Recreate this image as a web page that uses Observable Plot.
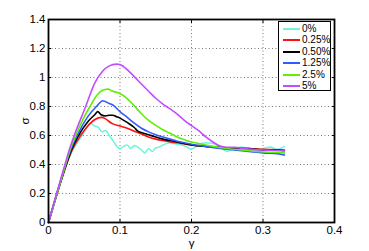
<!DOCTYPE html>
<html>
<head>
<meta charset="utf-8">
<script src="https://cdn.jsdelivr.net/npm/d3@7"></script>
<script src="https://cdn.jsdelivr.net/npm/@observablehq/plot@0.6"></script>
<style>
  html, body { margin: 0; padding: 0; background: #fff; }
  #wrap { position: relative; width: 369px; height: 251px; font-family: "Liberation Sans", Arial, sans-serif; }
  #legend { position: absolute; left: 278px; top: 21px; width: 53px; height: 70px; border: 1px solid #000; background: #fff; box-sizing: border-box; font-size: 10px; color: #000; }
  .row { position: absolute; left: 4px; height: 11px; line-height: 11px; display: flex; align-items: center; }
  .sw { display: block; width: 17px; height: 2px; margin-right: 2px; }
</style>
</head>
<body>
<div id="wrap"></div>
<script>
const labels = ["0%", "0.25%", "0.50%", "1.25%", "2.5%", "5%"];
const colors = ["#72f5dc", "#ff1010", "#000000", "#2f5cff", "#5ef000", "#c24dff"];

const gamma0 = [0, 0.025, 0.034, 0.047, 0.053, 0.058, 0.065, 0.07, 0.075, 0.08, 0.085, 0.09, 0.095, 0.1, 0.105, 0.11, 0.115, 0.12, 0.125, 0.13, 0.135, 0.14, 0.145, 0.15, 0.155, 0.16, 0.17, 0.18, 0.19, 0.2, 0.205, 0.21, 0.22, 0.23, 0.24, 0.25, 0.255, 0.26, 0.27, 0.28, 0.29, 0.3, 0.31, 0.32, 0.33];
const sigma0 = [0, 0.4, 0.5, 0.6, 0.65, 0.684, 0.665, 0.655, 0.625, 0.635, 0.6, 0.565, 0.53, 0.51, 0.525, 0.535, 0.51, 0.53, 0.52, 0.5, 0.48, 0.51, 0.49, 0.515, 0.52, 0.535, 0.55, 0.54, 0.53, 0.505, 0.52, 0.535, 0.55, 0.545, 0.52, 0.49, 0.5, 0.505, 0.52, 0.51, 0.5, 0.51, 0.52, 0.505, 0.525];

const gamma1 = [0, 0.025, 0.033, 0.045, 0.055, 0.065, 0.074, 0.08, 0.085, 0.09, 0.1, 0.11, 0.12, 0.13, 0.14, 0.15, 0.16, 0.17, 0.18, 0.2, 0.22, 0.24, 0.26, 0.28, 0.3, 0.33];
const sigma1 = [0, 0.4, 0.5, 0.6, 0.665, 0.71, 0.725, 0.715, 0.695, 0.68, 0.665, 0.65, 0.63, 0.61, 0.59, 0.575, 0.565, 0.555, 0.55, 0.535, 0.525, 0.515, 0.51, 0.51, 0.505, 0.5];

const gamma2 = [0, 0.025, 0.032, 0.042, 0.055, 0.065, 0.069, 0.073, 0.08, 0.085, 0.09, 0.095, 0.1, 0.11, 0.12, 0.125, 0.13, 0.14, 0.15, 0.16, 0.17, 0.18, 0.19, 0.2, 0.22, 0.24, 0.26, 0.28, 0.3, 0.32, 0.33];
const sigma2 = [0, 0.4, 0.5, 0.6, 0.695, 0.745, 0.765, 0.745, 0.735, 0.74, 0.74, 0.73, 0.72, 0.69, 0.655, 0.63, 0.62, 0.605, 0.59, 0.575, 0.565, 0.555, 0.545, 0.535, 0.525, 0.52, 0.51, 0.51, 0.5, 0.5, 0.495];

const gamma3 = [0, 0.024, 0.031, 0.04, 0.055, 0.067, 0.076, 0.085, 0.09, 0.1, 0.11, 0.12, 0.13, 0.14, 0.15, 0.16, 0.17, 0.18, 0.19, 0.2, 0.22, 0.24, 0.26, 0.28, 0.3, 0.32, 0.33];
const sigma3 = [0, 0.4, 0.5, 0.6, 0.73, 0.8, 0.84, 0.82, 0.81, 0.765, 0.725, 0.685, 0.65, 0.625, 0.605, 0.59, 0.575, 0.56, 0.55, 0.54, 0.525, 0.51, 0.5, 0.49, 0.48, 0.475, 0.465];

const gamma4 = [0, 0.024, 0.03, 0.038, 0.048, 0.058, 0.068, 0.075, 0.083, 0.09, 0.1, 0.11, 0.12, 0.13, 0.14, 0.15, 0.16, 0.17, 0.18, 0.19, 0.2, 0.21, 0.22, 0.23, 0.25, 0.27, 0.29, 0.31, 0.33];
const sigma4 = [0, 0.4, 0.5, 0.6, 0.71, 0.8, 0.88, 0.91, 0.92, 0.905, 0.89, 0.855, 0.805, 0.75, 0.705, 0.67, 0.64, 0.615, 0.59, 0.57, 0.555, 0.545, 0.535, 0.525, 0.51, 0.5, 0.49, 0.485, 0.48];

const gamma5 = [0, 0.023, 0.029, 0.036, 0.052, 0.0645, 0.075, 0.085, 0.095, 0.1, 0.105, 0.11, 0.12, 0.13, 0.14, 0.15, 0.16, 0.17, 0.18, 0.19, 0.2, 0.21, 0.22, 0.23, 0.24, 0.25, 0.26, 0.27, 0.28, 0.29, 0.3, 0.31, 0.33];
const sigma5 = [0, 0.4, 0.5, 0.6, 0.8, 0.96, 1.04, 1.08, 1.092, 1.09, 1.075, 1.055, 1.006, 0.955, 0.905, 0.857, 0.817, 0.783, 0.748, 0.705, 0.668, 0.633, 0.59, 0.555, 0.527, 0.518, 0.518, 0.513, 0.507, 0.502, 0.5, 0.498, 0.495];

const xTicks = [0, 0.1, 0.2, 0.3, 0.4];
const yTicks = [0, 0.2, 0.4, 0.6, 0.8, 1, 1.2, 1.4];

const gammas = [gamma0, gamma1, gamma2, gamma3, gamma4, gamma5];
const sigmas = [sigma0, sigma1, sigma2, sigma3, sigma4, sigma5];
const data = [];
gammas.forEach((g, i) => g.forEach((x, j) => data.push({s: labels[i], x, y: sigmas[i][j]})));

const fmt = d => String(d);
const chart = Plot.plot({
  width: 369, height: 251,
  marginLeft: 48, marginRight: 35, marginTop: 19, marginBottom: 29,
  style: {fontFamily: "Liberation Sans, Arial, sans-serif", fontSize: "11.5px", color: "#000", background: "#fff"},
  x: {domain: [0, 0.4]},
  y: {domain: [0, 1.4]},
  color: {domain: labels, range: colors},
  marks: [
    Plot.gridX(xTicks, {stroke: "#777", strokeOpacity: 1, strokeDasharray: "1,2.5"}),
    Plot.gridY(yTicks, {stroke: "#777", strokeOpacity: 1, strokeDasharray: "1,2.5"}),
    Plot.line(data, {x: "x", y: "y", z: "s", stroke: "s", strokeWidth: 1.6, curve: "monotone-x"}),
    Plot.axisX(xTicks, {anchor: "bottom", tickSize: -3, tickPadding: 6, tickFormat: fmt, fontSize: 11.5, label: "γ", labelAnchor: "center", labelArrow: "none", labelOffset: 24}),
    Plot.axisX(xTicks, {anchor: "top", tickSize: -3, tickFormat: () => "", label: null}),
    Plot.axisY(yTicks, {anchor: "left", tickSize: -3, tickPadding: 6, tickFormat: fmt, fontSize: 11.5, label: "σ", labelAnchor: "center", labelArrow: "none", labelOffset: 28}),
    Plot.axisY(yTicks, {anchor: "right", tickSize: -3, tickFormat: () => "", label: null}),
    Plot.frame({stroke: "#000", strokeWidth: 1.8})
  ]
});
const wrap = document.getElementById("wrap");
wrap.appendChild(chart);

const legend = document.createElement("div");
legend.id = "legend";
labels.forEach((l, i) => {
  const r = document.createElement("div");
  r.className = "row";
  r.style.top = Math.round(1 + i * 11.4) + "px";
  const sw = document.createElement("span");
  sw.className = "sw";
  sw.style.background = colors[i];
  const t = document.createElement("span");
  t.textContent = l;
  r.appendChild(sw); r.appendChild(t);
  legend.appendChild(r);
});
wrap.appendChild(legend);
</script>
</body>
</html>
